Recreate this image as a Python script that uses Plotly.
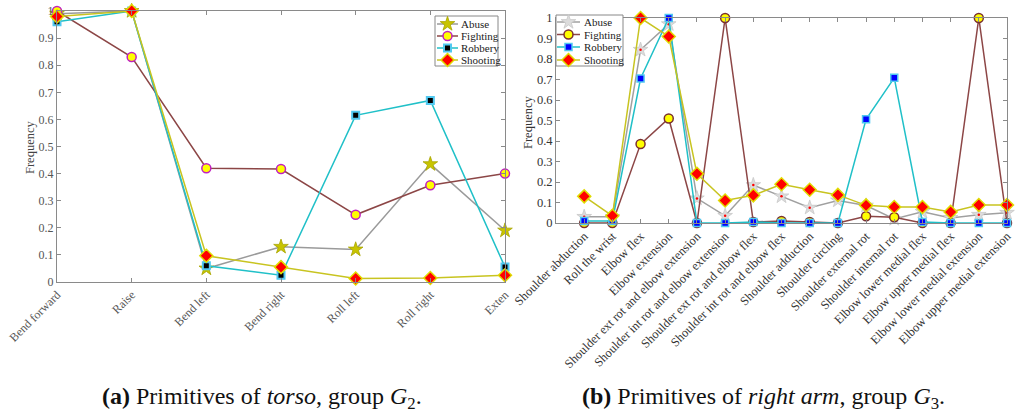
import plotly.graph_objects as go

# ---------------- data ----------------
torso_cats = ["Bend forward", "Raise", "Bend left", "Bend right", "Roll left", "Roll right", "Exten"]
torso_abuse = [0.99, 1.0, 0.05, 0.13, 0.12, 0.435, 0.19]
torso_fighting = [1.0, 0.83, 0.42, 0.417, 0.248, 0.357, 0.40]
torso_robbery = [0.96, 1.0, 0.06, 0.025, 0.615, 0.67, 0.055]
torso_shooting = [0.98, 1.0, 0.097, 0.055, 0.013, 0.015, 0.025]

arm_cats = ["Shoulder abduction", "Roll the wrist", "Elbow flex", "Elbow extension",
            "Shoulder ext rot and elbow extension", "Shoulder int rot and elbow extension",
            "Shoulder ext rot and elbow flex", "Shoulder int rot and elbow flex",
            "Shoulder adduction", "Shoulder circling", "Shoulder external rot",
            "Shoulder internal rot", "Elbow lower medial flex", "Elbow upper medial flex",
            "Elbow lower medial extension", "Elbow upper medial extension"]
arm_abuse = [0.03, 0.03, 0.845, 0.97, 0.12, 0.035, 0.185, 0.13, 0.075, 0.11, 0.085, 0.02, 0.055, 0.025, 0.04, 0.05]
arm_fighting = [0.0, 0.0, 0.385, 0.51, 0.0, 1.0, 0.005, 0.01, 0.005, 0.0, 0.033, 0.028, 0.0, 0.0, 1.0, 0.0]
arm_robbery = [0.01, 0.01, 0.705, 1.0, 0.0, 0.0, 0.005, 0.0, 0.0, 0.0, 0.506, 0.708, 0.005, 0.0, 0.0, 0.0]
arm_shooting = [0.13, 0.035, 1.0, 0.91, 0.24, 0.11, 0.135, 0.189, 0.162, 0.137, 0.086, 0.078, 0.078, 0.054, 0.088, 0.088]

series_names = ["Abuse", "Fighting", "Robbery", "Shooting"]
y_ticks = [0, 0.1, 0.2, 0.3, 0.4, 0.5, 0.6, 0.7, 0.8, 0.9, 1]

SERIF = "Liberation Serif, Times New Roman, DejaVu Serif, serif"
W, H = 1024, 417
fig = go.Figure()

# ---------------- styles ----------------
left_styles = [
    dict(line=dict(color="#9a9a9a", width=1.5),
         marker=dict(symbol="star", size=11, color="#c8c400", line=dict(color="#a8a400", width=0.8))),
    dict(line=dict(color="#8c4646", width=1.5),
         marker=dict(symbol="circle", size=9, color="#ffff00", line=dict(color="#c020c0", width=1.5))),
    dict(line=dict(color="#20c0c8", width=1.5),
         marker=dict(symbol="square", size=7, color="#000000", line=dict(color="#50c8f0", width=2))),
    dict(line=dict(color="#c8c420", width=1.5),
         marker=dict(symbol="diamond", size=10, color="#ff0000", line=dict(color="#e0dc00", width=1.5))),
]
right_styles = [
    dict(line=dict(color="#a0a0a0", width=1.5),
         marker=dict(symbol="star", size=11, color="#dcdcdc", line=dict(color="#c8c8c8", width=0.8))),
    dict(line=dict(color="#8c4646", width=1.5),
         marker=dict(symbol="circle", size=9, color="#ffff00", line=dict(color="#7a3030", width=1.5))),
    dict(line=dict(color="#20c0c8", width=1.5),
         marker=dict(symbol="square", size=7, color="#0000ff", line=dict(color="#50c8f0", width=1.5))),
    dict(line=dict(color="#c8c420", width=1.5),
         marker=dict(symbol="diamond", size=10, color="#ff0000", line=dict(color="#e0dc00", width=1.5))),
]
red_dot = dict(symbol="circle", size=2.5, color="#ff0000", line=dict(width=0))

# ---------------- left chart (torso) ----------------
for name, vals, st in zip(series_names, [torso_abuse, torso_fighting, torso_robbery, torso_shooting], left_styles):
    fig.add_trace(go.Scatter(x=torso_cats, y=vals, name=name, mode="lines+markers",
                             xaxis="x", yaxis="y", showlegend=False, cliponaxis=False, **st))

# ---------------- right chart (right arm) ----------------
arm_x = list(range(len(arm_cats)))
for name, vals, st in zip(series_names, [arm_abuse, arm_fighting, arm_robbery, arm_shooting], right_styles):
    fig.add_trace(go.Scatter(x=arm_x, y=vals, name=name, mode="lines+markers",
                             xaxis="x2", yaxis="y2", showlegend=False, cliponaxis=False, **st))
    if name == "Abuse":
        fig.add_trace(go.Scatter(x=arm_x, y=vals, mode="markers", marker=red_dot,
                                 xaxis="x2", yaxis="y2", showlegend=False, cliponaxis=False,
                                 hoverinfo="skip"))

# ---------------- hand-made legends (pixel overlay axis) ----------------
annotations = []
def draw_legend(box, rows_y, line_x, text_x, styles, font_size, abuse_dot=False):
    x0, y0, x1, y1 = box
    fig.add_trace(go.Scatter(x=[x0, x1, x1, x0, x0], y=[y0, y0, y1, y1, y0], mode="lines",
                             fill="toself", fillcolor="white", line=dict(color="#888888", width=1),
                             xaxis="x3", yaxis="y3", showlegend=False, hoverinfo="skip"))
    for name, ry, st in zip(series_names, rows_y, styles):
        lx = [line_x[0], (line_x[0] + line_x[1]) / 2, line_x[1]]
        mk = dict(st["marker"])
        mk["opacity"] = [0, 1, 0]
        fig.add_trace(go.Scatter(x=lx, y=[ry] * 3, mode="lines+markers", line=st["line"], marker=mk,
                                 xaxis="x3", yaxis="y3", showlegend=False, hoverinfo="skip"))
        if abuse_dot and name == "Abuse":
            fig.add_trace(go.Scatter(x=[lx[1]], y=[ry], mode="markers", marker=red_dot,
                                     xaxis="x3", yaxis="y3", showlegend=False, hoverinfo="skip"))
        annotations.append(dict(text=name, x=text_x / W, y=1 - ry / H, xref="paper", yref="paper",
                                xanchor="left", yanchor="middle", showarrow=False,
                                font=dict(family=SERIF, size=font_size, color="#222222")))

draw_legend((435, 16, 498, 66), [24, 36, 48, 60], (437, 458), 459, left_styles, 11)
draw_legend((556, 15, 623, 66), [22, 34.5, 47, 60], (557, 580), 582, right_styles, 11)

axis_common = dict(showline=True, linecolor="#8a8a8a", linewidth=1, mirror="ticks",
                   ticks="inside", ticklen=4, tickcolor="#8a8a8a", showgrid=False,
                   zeroline=False, automargin=False)

annotations += [
    dict(text="Frequency", x=30 / W, y=1 - 147 / H, xref="paper", yref="paper", textangle=-90,
         xanchor="center", yanchor="middle", showarrow=False,
         font=dict(family=SERIF, size=12.5, color="#444444")),
    dict(text="Frequency", x=528 / W, y=1 - 122 / H, xref="paper", yref="paper", textangle=-90,
         xanchor="center", yanchor="middle", showarrow=False,
         font=dict(family=SERIF, size=12.5, color="#333333")),
    dict(text="<b>(a)</b> Primitives of <i>torso</i>, group <i>G</i><sub>2</sub>.",
         x=262 / W, y=1 - 398 / H, xref="paper", yref="paper",
         xanchor="center", yanchor="middle", showarrow=False,
         font=dict(family=SERIF, size=24, color="#111111")),
    dict(text="<b>(b)</b> Primitives of <i>right arm</i>, group <i>G</i><sub>3</sub>.",
         x=763 / W, y=1 - 398 / H, xref="paper", yref="paper",
         xanchor="center", yanchor="middle", showarrow=False,
         font=dict(family=SERIF, size=24, color="#111111")),
]

fig.update_layout(
    width=W, height=H,
    margin=dict(l=0, r=0, t=0, b=0),
    paper_bgcolor="white", plot_bgcolor="rgba(0,0,0,0)",
    font=dict(family=SERIF, color="#333333"),
    showlegend=False,
    xaxis=dict(domain=[57 / W, 505 / W], anchor="y", range=[0, 6],
               type="category", tickangle=-45,
               tickfont=dict(family=SERIF, size=12, color="#555555"), **axis_common),
    yaxis=dict(domain=[1 - 282 / H, 1 - 11 / H], anchor="x", range=[0, 1],
               tickvals=y_ticks, tickfont=dict(family=SERIF, size=12, color="#555555"),
               **axis_common),
    xaxis2=dict(domain=[556 / W, 1007 / W], anchor="y2", range=[-1, 15],
                tickvals=arm_x, ticktext=arm_cats, tickangle=-45,
                tickfont=dict(family=SERIF, size=12.5, color="#333333"), **axis_common),
    yaxis2=dict(domain=[1 - 223 / H, 1 - 18 / H], anchor="x2", range=[0, 1],
                tickvals=y_ticks, tickfont=dict(family=SERIF, size=12.5, color="#333333"),
                **axis_common),
    xaxis3=dict(domain=[0, 1], anchor="y3", range=[0, W], visible=False, fixedrange=True),
    yaxis3=dict(domain=[0, 1], anchor="x3", range=[H, 0], visible=False, fixedrange=True),
    annotations=annotations,
)

fig.write_html("out.html")
